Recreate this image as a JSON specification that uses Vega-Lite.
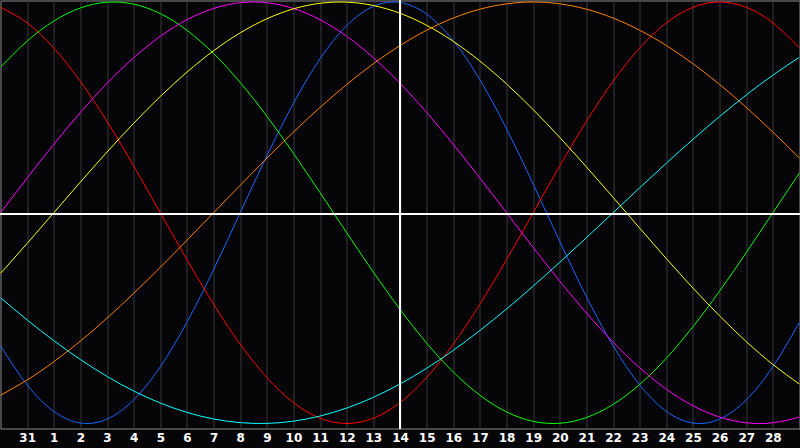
{
  "$schema": "https://vega.github.io/schema/vega-lite/v6.json",
  "autosize": {"type": "none"},
  "padding": {"left": 0.5, "top": 0.5, "right": 0.5, "bottom": 19.5},
  "width": 799,
  "height": 428,
  "background": "#050508",
  "config": {
    "view": {"stroke": "#8c8c8c", "strokeWidth": 1, "fill": "#050508"}
  },
  "data": {
    "values": [
      {"s":"physical","t":0,"v":-0.6311},{"s":"physical","t":1,"v":-0.8170},{"s":"physical","t":2,"v":-0.9423},{"s":"physical","t":3,"v":-0.9977},{"s":"physical","t":4,"v":-0.9791},{"s":"physical","t":5,"v":-0.8879},{"s":"physical","t":6,"v":-0.7308},{"s":"physical","t":7,"v":-0.5196},{"s":"physical","t":8,"v":-0.2698},{"s":"physical","t":9,"v":0},{"s":"physical","t":10,"v":0.2698},{"s":"physical","t":11,"v":0.5196},{"s":"physical","t":12,"v":0.7308},{"s":"physical","t":13,"v":0.8879},{"s":"physical","t":14,"v":0.9791},{"s":"physical","t":15,"v":0.9977},{"s":"physical","t":16,"v":0.9423},{"s":"physical","t":17,"v":0.8170},{"s":"physical","t":18,"v":0.6311},{"s":"physical","t":19,"v":0.3984},{"s":"physical","t":20,"v":0.1362},{"s":"physical","t":21,"v":-0.1362},{"s":"physical","t":22,"v":-0.3984},{"s":"physical","t":23,"v":-0.6311},{"s":"physical","t":24,"v":-0.8170},{"s":"physical","t":25,"v":-0.9423},{"s":"physical","t":26,"v":-0.9977},{"s":"physical","t":27,"v":-0.9791},{"s":"physical","t":28,"v":-0.8879},{"s":"physical","t":29,"v":-0.7308},{"s":"physical","t":30,"v":-0.5196},
      {"s":"emotional","t":0,"v":0.9749},{"s":"emotional","t":1,"v":0.9010},{"s":"emotional","t":2,"v":0.7818},{"s":"emotional","t":3,"v":0.6235},{"s":"emotional","t":4,"v":0.4339},{"s":"emotional","t":5,"v":0.2225},{"s":"emotional","t":6,"v":0},{"s":"emotional","t":7,"v":-0.2225},{"s":"emotional","t":8,"v":-0.4339},{"s":"emotional","t":9,"v":-0.6235},{"s":"emotional","t":10,"v":-0.7818},{"s":"emotional","t":11,"v":-0.9010},{"s":"emotional","t":12,"v":-0.9749},{"s":"emotional","t":13,"v":-1},{"s":"emotional","t":14,"v":-0.9749},{"s":"emotional","t":15,"v":-0.9010},{"s":"emotional","t":16,"v":-0.7818},{"s":"emotional","t":17,"v":-0.6235},{"s":"emotional","t":18,"v":-0.4339},{"s":"emotional","t":19,"v":-0.2225},{"s":"emotional","t":20,"v":0},{"s":"emotional","t":21,"v":0.2225},{"s":"emotional","t":22,"v":0.4339},{"s":"emotional","t":23,"v":0.6235},{"s":"emotional","t":24,"v":0.7818},{"s":"emotional","t":25,"v":0.9010},{"s":"emotional","t":26,"v":0.9749},{"s":"emotional","t":27,"v":1},{"s":"emotional","t":28,"v":0.9749},{"s":"emotional","t":29,"v":0.9010},{"s":"emotional","t":30,"v":0.7818},
      {"s":"intellectual","t":0,"v":0.6901},{"s":"intellectual","t":1,"v":0.8146},{"s":"intellectual","t":2,"v":0.9096},{"s":"intellectual","t":3,"v":0.9718},{"s":"intellectual","t":4,"v":0.9989},{"s":"intellectual","t":5,"v":0.9898},{"s":"intellectual","t":6,"v":0.9450},{"s":"intellectual","t":7,"v":0.8660},{"s":"intellectual","t":8,"v":0.7557},{"s":"intellectual","t":9,"v":0.6182},{"s":"intellectual","t":10,"v":0.4582},{"s":"intellectual","t":11,"v":0.2817},{"s":"intellectual","t":12,"v":0.0951},{"s":"intellectual","t":13,"v":-0.0951},{"s":"intellectual","t":14,"v":-0.2817},{"s":"intellectual","t":15,"v":-0.4582},{"s":"intellectual","t":16,"v":-0.6182},{"s":"intellectual","t":17,"v":-0.7557},{"s":"intellectual","t":18,"v":-0.8660},{"s":"intellectual","t":19,"v":-0.9450},{"s":"intellectual","t":20,"v":-0.9898},{"s":"intellectual","t":21,"v":-0.9989},{"s":"intellectual","t":22,"v":-0.9718},{"s":"intellectual","t":23,"v":-0.9096},{"s":"intellectual","t":24,"v":-0.8146},{"s":"intellectual","t":25,"v":-0.6901},{"s":"intellectual","t":26,"v":-0.5406},{"s":"intellectual","t":27,"v":-0.3717},{"s":"intellectual","t":28,"v":-0.1893},{"s":"intellectual","t":29,"v":0},{"s":"intellectual","t":30,"v":0.1893},
      {"s":"intuitive","t":0,"v":0},{"s":"intuitive","t":1,"v":0.1646},{"s":"intuitive","t":2,"v":0.3247},{"s":"intuitive","t":3,"v":0.4759},{"s":"intuitive","t":4,"v":0.6142},{"s":"intuitive","t":5,"v":0.7357},{"s":"intuitive","t":6,"v":0.8372},{"s":"intuitive","t":7,"v":0.9158},{"s":"intuitive","t":8,"v":0.9694},{"s":"intuitive","t":9,"v":0.9966},{"s":"intuitive","t":10,"v":0.9966},{"s":"intuitive","t":11,"v":0.9694},{"s":"intuitive","t":12,"v":0.9158},{"s":"intuitive","t":13,"v":0.8372},{"s":"intuitive","t":14,"v":0.7357},{"s":"intuitive","t":15,"v":0.6142},{"s":"intuitive","t":16,"v":0.4759},{"s":"intuitive","t":17,"v":0.3247},{"s":"intuitive","t":18,"v":0.1646},{"s":"intuitive","t":19,"v":0},{"s":"intuitive","t":20,"v":-0.1646},{"s":"intuitive","t":21,"v":-0.3247},{"s":"intuitive","t":22,"v":-0.4759},{"s":"intuitive","t":23,"v":-0.6142},{"s":"intuitive","t":24,"v":-0.7357},{"s":"intuitive","t":25,"v":-0.8372},{"s":"intuitive","t":26,"v":-0.9158},{"s":"intuitive","t":27,"v":-0.9694},{"s":"intuitive","t":28,"v":-0.9966},{"s":"intuitive","t":29,"v":-0.9966},{"s":"intuitive","t":30,"v":-0.9694},
      {"s":"aesthetic","t":0,"v":-0.2881},{"s":"aesthetic","t":1,"v":-0.1456},{"s":"aesthetic","t":2,"v":0},{"s":"aesthetic","t":3,"v":0.1456},{"s":"aesthetic","t":4,"v":0.2881},{"s":"aesthetic","t":5,"v":0.4244},{"s":"aesthetic","t":6,"v":0.5517},{"s":"aesthetic","t":7,"v":0.6672},{"s":"aesthetic","t":8,"v":0.7687},{"s":"aesthetic","t":9,"v":0.8535},{"s":"aesthetic","t":10,"v":0.9203},{"s":"aesthetic","t":11,"v":0.9675},{"s":"aesthetic","t":12,"v":0.9940},{"s":"aesthetic","t":13,"v":0.9993},{"s":"aesthetic","t":14,"v":0.9834},{"s":"aesthetic","t":15,"v":0.9465},{"s":"aesthetic","t":16,"v":0.8894},{"s":"aesthetic","t":17,"v":0.8133},{"s":"aesthetic","t":18,"v":0.7199},{"s":"aesthetic","t":19,"v":0.6112},{"s":"aesthetic","t":20,"v":0.4895},{"s":"aesthetic","t":21,"v":0.3572},{"s":"aesthetic","t":22,"v":0.2174},{"s":"aesthetic","t":23,"v":0.0730},{"s":"aesthetic","t":24,"v":-0.0730},{"s":"aesthetic","t":25,"v":-0.2174},{"s":"aesthetic","t":26,"v":-0.3572},{"s":"aesthetic","t":27,"v":-0.4895},{"s":"aesthetic","t":28,"v":-0.6112},{"s":"aesthetic","t":29,"v":-0.7199},{"s":"aesthetic","t":30,"v":-0.8133},
      {"s":"awareness","t":0,"v":-0.8660},{"s":"awareness","t":1,"v":-0.7934},{"s":"awareness","t":2,"v":-0.7071},{"s":"awareness","t":3,"v":-0.6088},{"s":"awareness","t":4,"v":-0.5},{"s":"awareness","t":5,"v":-0.3827},{"s":"awareness","t":6,"v":-0.2588},{"s":"awareness","t":7,"v":-0.1305},{"s":"awareness","t":8,"v":0},{"s":"awareness","t":9,"v":0.1305},{"s":"awareness","t":10,"v":0.2588},{"s":"awareness","t":11,"v":0.3827},{"s":"awareness","t":12,"v":0.5},{"s":"awareness","t":13,"v":0.6088},{"s":"awareness","t":14,"v":0.7071},{"s":"awareness","t":15,"v":0.7934},{"s":"awareness","t":16,"v":0.8660},{"s":"awareness","t":17,"v":0.9239},{"s":"awareness","t":18,"v":0.9659},{"s":"awareness","t":19,"v":0.9914},{"s":"awareness","t":20,"v":1},{"s":"awareness","t":21,"v":0.9914},{"s":"awareness","t":22,"v":0.9659},{"s":"awareness","t":23,"v":0.9239},{"s":"awareness","t":24,"v":0.8660},{"s":"awareness","t":25,"v":0.7934},{"s":"awareness","t":26,"v":0.7071},{"s":"awareness","t":27,"v":0.6088},{"s":"awareness","t":28,"v":0.5},{"s":"awareness","t":29,"v":0.3827},{"s":"awareness","t":30,"v":0.2588},
      {"s":"spiritual","t":0,"v":-0.4032},{"s":"spiritual","t":1,"v":-0.5085},{"s":"spiritual","t":2,"v":-0.6068},{"s":"spiritual","t":3,"v":-0.6965},{"s":"spiritual","t":4,"v":-0.7766},{"s":"spiritual","t":5,"v":-0.8457},{"s":"spiritual","t":6,"v":-0.9028},{"s":"spiritual","t":7,"v":-0.9473},{"s":"spiritual","t":8,"v":-0.9786},{"s":"spiritual","t":9,"v":-0.9960},{"s":"spiritual","t":10,"v":-0.9996},{"s":"spiritual","t":11,"v":-0.9890},{"s":"spiritual","t":12,"v":-0.9646},{"s":"spiritual","t":13,"v":-0.9267},{"s":"spiritual","t":14,"v":-0.8759},{"s":"spiritual","t":15,"v":-0.8126},{"s":"spiritual","t":16,"v":-0.7379},{"s":"spiritual","t":17,"v":-0.6529},{"s":"spiritual","t":18,"v":-0.5586},{"s":"spiritual","t":19,"v":-0.4566},{"s":"spiritual","t":20,"v":-0.3482},{"s":"spiritual","t":21,"v":-0.2349},{"s":"spiritual","t":22,"v":-0.1183},{"s":"spiritual","t":23,"v":0},{"s":"spiritual","t":24,"v":0.1183},{"s":"spiritual","t":25,"v":0.2349},{"s":"spiritual","t":26,"v":0.3482},{"s":"spiritual","t":27,"v":0.4566},{"s":"spiritual","t":28,"v":0.5586},{"s":"spiritual","t":29,"v":0.6529},{"s":"spiritual","t":30,"v":0.7379}
    ]
  },
  "layer": [
    {
      "mark": {"type": "line", "strokeWidth": 1, "interpolate": "natural", "clip": true},
      "encoding": {
        "x": {
          "field": "t", "type": "quantitative",
          "scale": {"domain": [0, 30], "nice": false, "zero": false},
          "axis": {
            "values": [1,2,3,4,5,6,7,8,9,10,11,12,13,14,15,16,17,18,19,20,21,22,23,24,25,26,27,28,29],
            "tickCount": 30,
            "labelExpr": "datum.value == 1 ? '31' : format(datum.value - 1, 'd')",
            "title": null, "domain": false, "ticks": false,
            "grid": true, "gridColor": "#3a3a3a", "gridWidth": 1,
            "labelColor": "#ffffff", "labelFont": "DejaVu Sans", "labelFontWeight": "bold",
            "labelFontSize": 12, "labelPadding": 4, "labelFlush": false, "labelOverlap": false
          }
        },
        "y": {
          "field": "v", "type": "quantitative",
          "scale": {"domain": [-1.0237, 1.0071], "nice": false, "zero": false},
          "axis": null
        },
        "color": {
          "field": "s", "type": "nominal",
          "scale": {
            "domain": ["physical","emotional","intellectual","intuitive","aesthetic","awareness","spiritual"],
            "range": ["#1a66ff","#ff0000","#00ff00","#ff00ff","#ffff00","#ff8000","#00ffff"]
          },
          "legend": null
        }
      }
    },
    {
      "mark": {"type": "rule", "color": "#ffffff", "strokeWidth": 1},
      "encoding": {"x": {"datum": 15}}
    },
    {
      "mark": {"type": "rule", "color": "#ffffff", "strokeWidth": 1},
      "encoding": {"y": {"datum": -0.006}}
    }
  ]
}
